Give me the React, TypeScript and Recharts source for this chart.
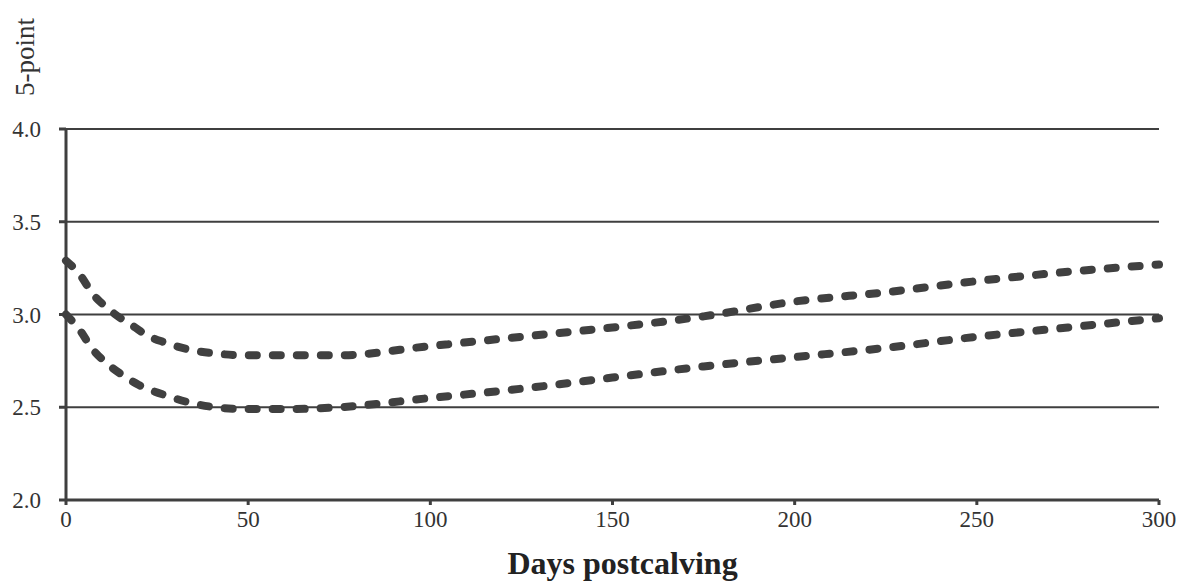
import React from "react";
import { LineChart, Line, XAxis, YAxis, CartesianGrid } from "recharts";

// days postcalving
const upperDays = [0, 4, 7, 11, 15, 19, 22, 27, 34, 41, 49, 60, 75, 100, 125, 150, 175, 200, 225, 250, 275, 300];
const upperScore = [3.29, 3.21, 3.12, 3.04, 2.98, 2.93, 2.89, 2.85, 2.81, 2.79, 2.78, 2.78, 2.78, 2.83, 2.88, 2.93, 2.99, 3.07, 3.12, 3.18, 3.23, 3.27];

const lowerDays = [0, 4, 7, 11, 15, 20, 28, 35, 41, 49, 60, 75, 100, 125, 150, 175, 200, 225, 250, 275, 300];
const lowerScore = [3.0, 2.91, 2.82, 2.74, 2.68, 2.62, 2.56, 2.52, 2.5, 2.49, 2.49, 2.5, 2.55, 2.6, 2.66, 2.72, 2.77, 2.82, 2.88, 2.93, 2.98];

const xTicks = [0, 50, 100, 150, 200, 250, 300];
const yTicks = [2.0, 2.5, 3.0, 3.5, 4.0];

const upperData = upperDays.map((d, i) => ({ day: d, score: upperScore[i] }));
const lowerData = lowerDays.map((d, i) => ({ day: d, score: lowerScore[i] }));

const font = "'Liberation Serif', 'Times New Roman', serif";
const ink = "#3f3f3f";

export default function App() {
  return (
    <div style={{ position: "absolute", left: 0, top: 0, width: 1182, height: 582, background: "#fff", fontFamily: font, overflow: "hidden" }}>
      <LineChart width={1182} height={582} margin={{ top: 129, right: 23, left: 16, bottom: 40 }}>
        <CartesianGrid vertical={false} stroke={ink} strokeWidth={2} />
        <XAxis
          type="number"
          dataKey="day"
          domain={[0, 300]}
          ticks={xTicks}
          allowDuplicatedCategory={false}
          stroke={ink}
          strokeWidth={3}
          tickSize={5}
          height={42}
          tick={{ fill: "#333", fontSize: 23, fontFamily: font, dy: 4 }}
          label={{
            value: "Days postcalving",
            position: "insideBottom",
            offset: -32,
            dx: 10,
            style: { fill: "#222", fontSize: 32, fontWeight: "bold", fontFamily: font },
          }}
        />
        <YAxis
          type="number"
          domain={[2, 4]}
          ticks={yTicks}
          width={50}
          stroke={ink}
          strokeWidth={3}
          tickSize={7}
          tickFormatter={(v: number) => v.toFixed(1)}
          tick={{ fill: "#333", fontSize: 23, fontFamily: font, dx: -16 }}
        />
        <Line
          data={upperData}
          dataKey="score"
          type="monotone"
          stroke="#404040"
          strokeWidth={8}
          strokeDasharray="8 16"
          strokeLinecap="round"
          dot={false}
          isAnimationActive={false}
        />
        <Line
          data={lowerData}
          dataKey="score"
          type="monotone"
          stroke="#404040"
          strokeWidth={8}
          strokeDasharray="8 16"
          strokeLinecap="round"
          dot={false}
          isAnimationActive={false}
        />
      </LineChart>
      <div
        style={{
          position: "absolute",
          left: 25,
          top: 57,
          transform: "translate(-50%, -50%) rotate(-90deg)",
          fontSize: 27,
          color: "#333",
          whiteSpace: "nowrap",
        }}
      >
        5-point
      </div>
    </div>
  );
}
